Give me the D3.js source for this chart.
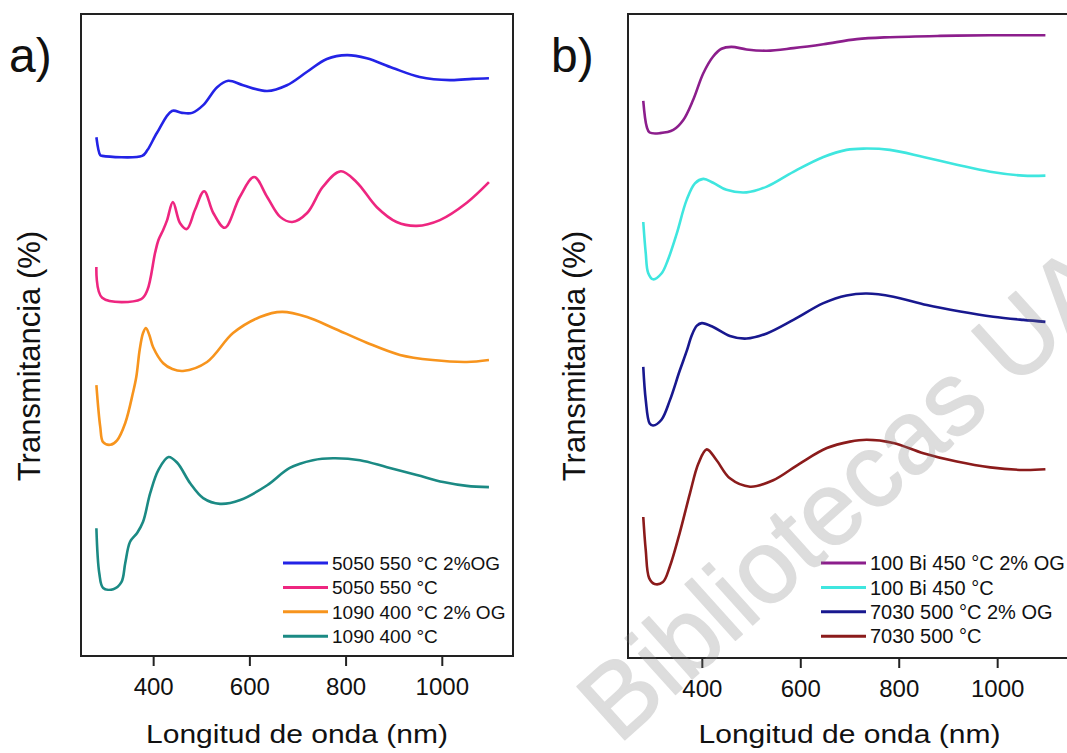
<!DOCTYPE html>
<html>
<head>
<meta charset="utf-8">
<script src="https://cdn.jsdelivr.net/npm/d3@7"></script>
<style>
  body { margin: 0; background: #fff; }
  text { font-family: 'Liberation Sans', Arial, sans-serif; fill: #111; }
</style>
</head>
<body>
<script>
const w = 1067
const h = 753

// panel a) -- [wavelength (nm), transmittance (offset, a.u.)]
const a5050og = [[282,80.8],[290,78.0],[294,77.9],[377,77.9],[388,78.8],[408,81.5],[439,84.9],[460,84.6],[481,84.6],[504,85.8],[533,88.6],[556,89.6],[587,88.9],[637,88.0],[678,88.9],[720,91.0],[761,93.0],[803,93.6],[844,93.1],[898,91.6],[954,90.2],[1017,89.7],[1064,89.9],[1098,90.0]]
const a5050 = [[282,60.6],[294,55.8],[375,55.6],[388,57.0],[404,62.8],[411,64.8],[421,66.4],[429,67.9],[441,70.7],[456,67.4],[470,66.5],[487,69.5],[506,72.4],[525,69.0],[549,66.7],[580,71.5],[610,74.6],[637,71.5],[664,68.4],[689,67.6],[720,69.0],[753,73.1],[790,75.5],[823,73.8],[865,69.9],[906,67.6],[948,67.0],[996,67.9],[1052,70.6],[1098,73.8]]
const a1090og = [[282,42.2],[290,35.7],[296,33.3],[311,32.9],[325,33.6],[342,36.3],[358,41.0],[365,43.5],[372,47.7],[379,50.3],[385,51.1],[392,50.0],[400,48.1],[421,45.6],[440,44.7],[462,44.4],[512,45.8],[566,50.3],[622,52.8],[668,53.6],[720,52.8],[774,51.1],[844,48.8],[913,46.9],[981,46.1],[1052,45.8],[1098,46.1]]
const a1090 = [[282,19.9],[288,12.9],[296,10.6],[317,10.4],[334,11.5],[342,14.5],[352,17.8],[367,19.2],[379,20.9],[394,25.4],[411,29.0],[432,31.0],[450,30.1],[477,26.9],[504,24.6],[539,23.7],[581,24.3],[637,26.6],[684,29.3],[732,30.5],[774,30.8],[830,30.5],[886,29.4],[948,28.2],[1003,27.1],[1052,26.5],[1098,26.3]]

// panel b)
const b100og = [[281,86.5],[288,82.5],[294,81.6],[315,81.5],[342,82.0],[362,83.5],[382,86.6],[403,90.8],[423,93.4],[440,94.6],[460,94.9],[491,94.5],[532,94.3],[586,94.7],[647,95.3],[715,96.1],[782,96.4],[884,96.6],[986,96.7],[1098,96.7]]
const b100 = [[281,67.7],[286,62.9],[291,59.8],[301,58.8],[318,59.7],[331,61.8],[349,65.9],[369,71.1],[386,73.7],[403,74.4],[423,73.8],[450,72.7],[491,72.3],[532,73.2],[586,75.5],[647,77.8],[694,78.9],[728,79.1],[782,78.9],[850,77.8],[918,76.6],[986,75.5],[1053,74.9],[1098,74.9]]
const b7030og = [[281,45.2],[286,40.1],[294,36.4],[301,36.1],[318,37.0],[335,40.0],[355,44.6],[369,47.6],[380,50.2],[390,51.6],[400,52.0],[423,51.4],[457,50.0],[491,49.6],[532,50.4],[586,52.5],[647,55.1],[694,56.3],[735,56.6],[789,56.1],[857,54.8],[925,53.8],[992,53.0],[1053,52.5],[1098,52.2]]
const b7030 = [[281,21.9],[286,16.8],[293,12.4],[304,11.5],[321,11.8],[335,14.2],[355,19.4],[376,25.6],[393,30.2],[410,32.4],[430,30.7],[457,27.9],[498,26.6],[545,27.6],[599,30.2],[654,32.6],[701,33.6],[735,33.9],[789,33.4],[850,31.8],[918,30.5],[986,29.6],[1053,29.2],[1098,29.3]]

const labelsA = ['5050 550 °C 2%OG', '5050 550 °C', '1090 400 °C 2% OG', '1090 400 °C']
const colorsA = ['#2323e6', '#ee2680', '#f7941d', '#1b8a84']
const labelsB = ['100 Bi 450 °C 2% OG', '100 Bi 450 °C', '7030 500 °C 2% OG', '7030 500 °C']
const colorsB = ['#8c1e8c', '#3fe6df', '#18188f', '#8b1b1b']
const xTicks = [400, 600, 800, 1000]

const panels = [
  {tag: 'a)', tagX: 9, left: 81, right: 513, top: 14, bottom: 656, dom: [250, 1148],
   series: [a5050og, a5050, a1090og, a1090], labels: labelsA, colors: colorsA,
   legX: 283, legFont: 19, yTitleX: 40},
  {tag: 'b)', tagX: 551, left: 628, right: 1071, top: 14, bottom: 658, dom: [250, 1150],
   series: [b100og, b100, b7030og, b7030], labels: labelsB, colors: colorsB,
   legX: 821, legFont: 20, yTitleX: 585}
]

const svg = d3.select('body')
              .append('svg')
              .attr('width', w)
              .attr('height', h)

panels.forEach(p => {
  const x = d3.scaleLinear().domain(p.dom).range([p.left, p.right])
  const y = d3.scaleLinear().domain([0, 100]).range([p.bottom, p.top])
  const line = d3.line()
                 .x(d => x(d[0]))
                 .y(d => y(d[1]))
                 .curve(d3.curveCatmullRom.alpha(0.5))

  const g = svg.append('g')

  g.selectAll('path.curve')
    .data(p.series)
    .enter()
    .append('path')
    .attr('class', 'curve')
    .attr('d', line)
    .attr('fill', 'none')
    .attr('stroke', (d, i) => p.colors[i])
    .attr('stroke-width', 2.6)
    .attr('stroke-linejoin', 'round')

  g.append('rect')
    .attr('x', p.left)
    .attr('y', p.top)
    .attr('width', p.right - p.left)
    .attr('height', p.bottom - p.top)
    .attr('fill', 'none')
    .attr('stroke', '#222')
    .attr('stroke-width', 2)

  const xAxis = d3.axisBottom(x)
                  .tickValues(xTicks)
                  .tickFormat(d3.format('d'))
                  .tickSize(10)
                  .tickPadding(12)
  const ax = g.append('g')
              .attr('transform', 'translate(0,' + p.bottom + ')')
              .call(xAxis)
  ax.select('.domain').remove()
  ax.selectAll('line').attr('stroke', '#222').attr('stroke-width', 2)
  ax.selectAll('text').attr('font-size', 24).attr('fill', '#111')
    .style('font-family', "'Liberation Sans', Arial, sans-serif")

  g.append('text')
    .attr('x', (p.left + p.right) / 2)
    .attr('y', 743)
    .attr('text-anchor', 'middle')
    .attr('font-size', 26)
    .attr('textLength', 302)
    .attr('lengthAdjust', 'spacingAndGlyphs')
    .text('Longitud de onda (nm)')

  g.append('text')
    .attr('transform', 'translate(' + p.yTitleX + ',' + 356 + ') rotate(-90)')
    .attr('text-anchor', 'middle')
    .attr('font-size', 31)
    .text('Transmitancia (%)')

  g.append('text')
    .attr('x', p.tagX)
    .attr('y', 72)
    .attr('font-size', 48)
    .text(p.tag)

  const leg = g.selectAll('g.leg')
               .data(p.labels)
               .enter()
               .append('g')
               .attr('class', 'leg')
               .attr('transform', (d, i) => 'translate(' + p.legX + ',' + (563 + i * 24.4) + ')')
  leg.append('line')
     .attr('x1', 0).attr('x2', 45)
     .attr('stroke', (d, i) => p.colors[i])
     .attr('stroke-width', 3)
  leg.append('text')
     .attr('x', 49)
     .attr('dy', '0.36em')
     .attr('font-size', p.legFont)
     .text(d => d)
})

// watermark
svg.append('text')
   .attr('transform', 'translate(849,496) rotate(-42)')
   .attr('text-anchor', 'middle')
   .attr('dy', '0.3em')
   .attr('font-size', 104)
   .style('fill', '#7a7a7a')
   .style('stroke', '#7a7a7a')
   .style('stroke-width', 1.5)
   .style('stroke-linejoin', 'round')
   .style('opacity', 0.25)
   .text('Bibliotecas UA')
</script>
</body>
</html>
